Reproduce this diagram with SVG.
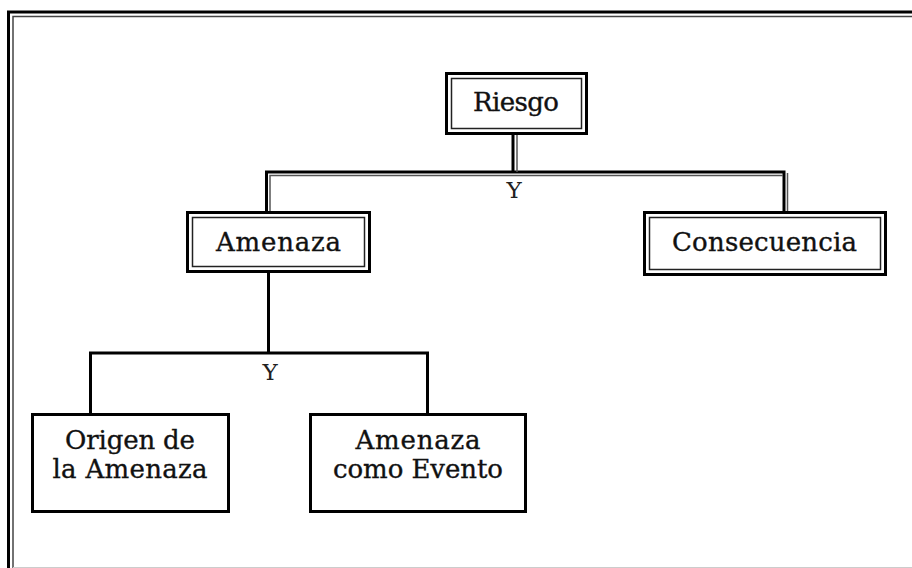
<svg xmlns="http://www.w3.org/2000/svg" width="912" height="568" viewBox="0 0 912 568">
  <style>
    .frame-outer { fill: none; stroke: #000; stroke-width: 3; }
    .frame-inner { fill: none; stroke: #444; stroke-width: 1.5; }
    .box { fill: #fff; stroke: #000; stroke-width: 3; }
    .box-inner { fill: none; stroke: #222; stroke-width: 1.5; }
    .link { fill: none; stroke: #000; stroke-width: 3; }
    .link-thin { fill: none; stroke: #555; stroke-width: 1.5; }
    .label { font-family: "DejaVu Serif", "Liberation Serif", serif; font-size: 26px; fill: #111; stroke: #111; stroke-width: 0.35; text-anchor: middle; }
    .op { font-family: "DejaVu Serif", "Liberation Serif", serif; font-size: 23px; fill: #222; text-anchor: middle; }
  </style>

  <rect width="912" height="568" fill="#fff"/>

  <!-- page frame (double rule, runs off the right and bottom edges) -->
  <g id="frame">
    <rect class="frame-outer" x="8.5" y="12" width="1000" height="1000"/>
    <rect class="frame-inner" x="13" y="16.5" width="1000" height="1000"/>
    <line x1="13" y1="567.5" x2="912" y2="567.5" stroke="#ccc" stroke-width="1"/>
  </g>

  <!-- connectors -->
  <g id="connectors">
    <!-- Riesgo -> Amenaza / Consecuencia (double rule) -->
    <path class="link" d="M513,134 V172"/>
    <path class="link" d="M266.5,211 V172 H784 V211"/>
    <path class="link-thin" d="M517,134 V172"/>
    <path class="link-thin" d="M270,211 V175.5 H783"/>
    <path class="link-thin" d="M787.5,173 V211"/>
    <text class="op" x="514" y="198">Y</text>

    <!-- Amenaza -> Origen / Evento -->
    <path class="link" d="M268.5,273 V353"/>
    <path class="link" d="M90.5,413 V353 H427.5 V413"/>
    <text class="op" x="270" y="380">Y</text>
  </g>

  <g id="riesgo">
    <rect class="box" x="446.5" y="73.5" width="140" height="60"/>
    <rect class="box-inner" x="451.5" y="78.5" width="130" height="50"/>
    <text class="label" x="516" y="111" textLength="86" lengthAdjust="spacing">Riesgo</text>
  </g>

  <g id="amenaza">
    <rect class="box" x="187.5" y="212.5" width="182" height="59"/>
    <rect class="box-inner" x="192.5" y="217.5" width="172" height="49"/>
    <text class="label" x="278.5" y="251" textLength="125" lengthAdjust="spacing">Amenaza</text>
  </g>

  <g id="consecuencia">
    <rect class="box" x="644.5" y="212.5" width="241" height="62"/>
    <rect class="box-inner" x="649.5" y="217.5" width="231" height="52"/>
    <text class="label" x="764.5" y="251" textLength="185" lengthAdjust="spacing">Consecuencia</text>
  </g>

  <g id="origen">
    <rect class="box" x="32.5" y="414.5" width="196" height="97"/>
    <text class="label" x="130" y="449" textLength="130" lengthAdjust="spacing">Origen de</text>
    <text class="label" x="130" y="478" textLength="155" lengthAdjust="spacing">la Amenaza</text>
  </g>

  <g id="evento">
    <rect class="box" x="310.5" y="414.5" width="215" height="97"/>
    <text class="label" x="418" y="449" textLength="125" lengthAdjust="spacing">Amenaza</text>
    <text class="label" x="418" y="478" textLength="170" lengthAdjust="spacing">como Evento</text>
  </g>
</svg>
